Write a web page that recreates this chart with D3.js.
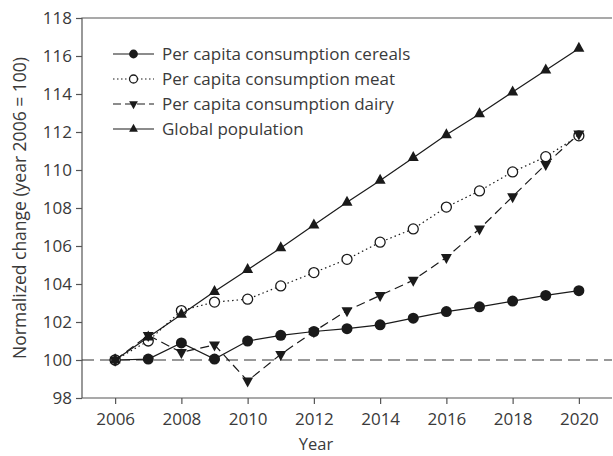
<!DOCTYPE html>
<html>
<head>
<meta charset="utf-8">
<script src="https://cdn.jsdelivr.net/npm/d3@7"></script>
<style>
  body { margin: 0; background: #fff; }
  svg text { font-family: "Open Sans", sans-serif; fill: #3a3a3a; }
</style>
</head>
<body>
<svg id="chart" width="613" height="456"></svg>
<script>
// values
const years = d3.range(2006, 2021);
const cereals = [100, 100.05, 100.9, 100.05, 101.0, 101.3, 101.5, 101.65, 101.85, 102.2, 102.55, 102.8, 103.1, 103.4, 103.65];
const meat = [100, 101.0, 102.6, 103.05, 103.2, 103.9, 104.6, 105.3, 106.2, 106.9, 108.05, 108.9, 109.9, 110.7, 111.8];
const dairy = [100, 101.3, 100.4, 100.8, 98.9, 100.3, 101.5, 102.6, 103.4, 104.2, 105.4, 106.9, 108.6, 110.3, 111.9];
const population = [100, 101.2, 102.4, 103.6, 104.75, 105.9, 107.1, 108.3, 109.45, 110.65, 111.85, 112.95, 114.1, 115.25, 116.4];
const seriesNames = ["Per capita consumption cereals", "Per capita consumption meat", "Per capita consumption dairy", "Global population"];
const yTicks = d3.range(98, 119, 2);
const xTicks = d3.range(2006, 2021, 2);

const svg = d3.select("#chart");
const margin = {left: 82, top: 18, right: 612, bottom: 398};
const ink = "#1a1a1a";

const x = d3.scaleLinear().domain([2005, 2021]).range([margin.left, margin.right]);
const y = d3.scaleLinear().domain([98, 118]).range([margin.bottom, margin.top]);

// frame (top + left + bottom)
svg.append("path")
  .attr("d", `M${margin.right},${margin.top}H${margin.left}V${margin.bottom}H${margin.right}`)
  .attr("fill", "none").attr("stroke", "#555").attr("stroke-width", 1.2);

// axes
const yAxis = svg.append("g").attr("transform", `translate(${margin.left},0)`)
  .call(d3.axisLeft(y).tickValues(yTicks).tickSize(6).tickPadding(4));
const xAxis = svg.append("g").attr("transform", `translate(0,${margin.bottom})`)
  .call(d3.axisBottom(x).tickValues(xTicks).tickFormat(d3.format("d")).tickSize(6).tickPadding(9));
[yAxis, xAxis].forEach(a => {
  a.select(".domain").remove();
  a.selectAll(".tick line").attr("stroke", "#555").attr("stroke-width", 1.2);
  a.selectAll(".tick text").attr("font-size", 17).style("fill", "#3a3a3a");
});

// axis titles
svg.append("text").attr("x", 316).attr("y", 450)
  .attr("text-anchor", "middle").attr("font-size", 16.5).text("Year");
svg.append("text").attr("transform", `translate(20,${(margin.top + margin.bottom) / 2}) rotate(-90)`)
  .attr("text-anchor", "middle").attr("dy", "0.35em").attr("font-size", 17.5).text("Normalized change (year 2006 = 100)");

// baseline at 100
svg.append("line").attr("x1", margin.left).attr("x2", margin.right)
  .attr("y1", y(100)).attr("y2", y(100))
  .attr("stroke", "#333").attr("stroke-width", 1.2).attr("stroke-dasharray", "12,6");

const line = d3.line().x((d, i) => x(years[i])).y(d => y(d));

const styles = [
  {data: cereals, dash: null, marker: "dot"},
  {data: meat, dash: "1.5,3", marker: "circle"},
  {data: dairy, dash: "9,5", marker: "down"},
  {data: population, dash: null, marker: "up"}
];

function drawMarker(g, type, cx, cy, s) {
  if (type === "dot") {
    g.append("circle").attr("cx", cx).attr("cy", cy).attr("r", 5.5 * s).attr("fill", ink);
  } else if (type === "circle") {
    g.append("circle").attr("cx", cx).attr("cy", cy).attr("r", 5 * s)
      .attr("fill", "#fff").attr("stroke", ink).attr("stroke-width", 1.3);
  } else {
    const h = 10 * s, w = 11 * s;
    const sign = type === "up" ? -1 : 1;
    const pts = [[cx - w / 2, cy - sign * h / 3], [cx + w / 2, cy - sign * h / 3], [cx, cy + sign * 2 * h / 3]];
    g.append("path").attr("d", "M" + pts.join("L") + "Z").attr("fill", ink);
  }
}

styles.forEach(st => {
  svg.append("path").datum(st.data).attr("d", line)
    .attr("fill", "none").attr("stroke", ink).attr("stroke-width", 1.2)
    .attr("stroke-dasharray", st.dash);
  const g = svg.append("g");
  st.data.forEach((v, i) => drawMarker(g, st.marker, x(years[i]), y(v), 1));
});

// legend
const legend = svg.append("g");
seriesNames.forEach((name, i) => {
  const ly = 54 + i * 25;
  const st = styles[i];
  legend.append("line").attr("x1", 113).attr("x2", 154).attr("y1", ly).attr("y2", ly)
    .attr("stroke", ink).attr("stroke-width", 1.2)
    .attr("stroke-dasharray", st.marker === "circle" ? "1.5,2.5" : (st.marker === "down" ? "8,4" : null));
  drawMarker(legend, st.marker, 133.5, ly, 0.8);
  legend.append("text").attr("x", 162).attr("y", ly).attr("dy", "0.36em")
    .attr("font-size", 17).text(name);
});
</script>
</body>
</html>
